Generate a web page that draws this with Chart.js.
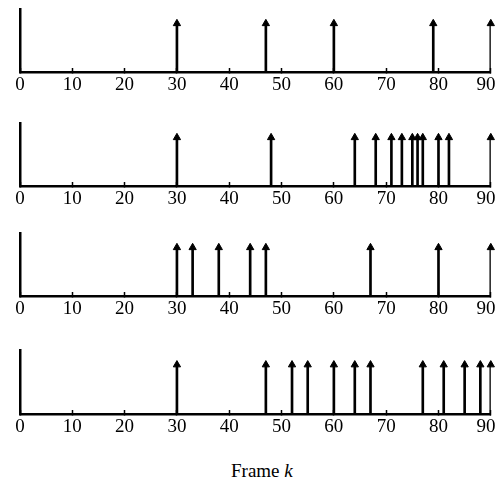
<!DOCTYPE html>
<html>
<head>
<meta charset="utf-8">
<script src="https://cdn.jsdelivr.net/npm/chart.js@4/dist/chart.umd.min.js"></script>
<style>
  html, body { margin: 0; padding: 0; background: #fff; }
  body { width: 496px; height: 481px; position: relative; overflow: hidden; }
  .panel { position: absolute; left: 0; width: 496px; height: 100px; }
  #title { position: absolute; left: 231px; top: 461px; line-height: 20px; white-space: nowrap;
           font-family: "Liberation Serif", "Times New Roman", serif; font-size: 19px; color: #000; }
</style>
</head>
<body>
<div class="panel" style="top:0px"><canvas id="c1"></canvas></div>
<div class="panel" style="top:114px"><canvas id="c2"></canvas></div>
<div class="panel" style="top:224px"><canvas id="c3"></canvas></div>
<div class="panel" style="top:342px"><canvas id="c4"></canvas></div>
<div id="title">Frame <i>k</i></div>
<script>
const frameTicks = [0, 10, 20, 30, 40, 50, 60, 70, 80, 90];
const panel1Frames = [30, 47, 60, 79, 90];
const panel2Frames = [30, 48, 64, 68, 71, 73, 75, 76, 77, 80, 82, 90];
const panel3Frames = [30, 33, 38, 44, 47, 67, 80, 90];
const panel4Frames = [30, 47, 52, 55, 60, 64, 67, 77, 81, 85, 88, 90];
const stemHeight = 1;

const serif = '"Liberation Serif", "Times New Roman", serif';

function makePanel(id, frames, topPad) {
  const pts = frames.map(f => ({ x: f, y: stemHeight }));
  new Chart(document.getElementById(id), {
    data: {
      datasets: [
        {
          type: 'bar',
          data: pts,
          backgroundColor: '#000',
          borderWidth: 0,
          barThickness: 2,
          grouped: false
        },
        {
          type: 'scatter',
          data: pts,
          pointStyle: 'triangle',
          radius: 4.2,
          backgroundColor: '#000',
          borderColor: '#000',
          borderWidth: 1,
          clip: false
        }
      ]
    },
    options: {
      responsive: true,
      maintainAspectRatio: false,
      animation: false,
      events: [],
      layout: { padding: { left: 20, right: 5, top: topPad, bottom: 0 } },
      plugins: { legend: { display: false }, tooltip: { enabled: false } },
      scales: {
        x: {
          type: 'linear',
          min: 0, max: 90,
          offset: false,
          afterBuildTicks: s => { s.ticks = frameTicks.map(v => ({ value: v })); },
          afterFit: s => { s.height = 28; s.paddingLeft = 0; s.paddingRight = 0; },
          ticks: {
            autoSkip: false,
            maxRotation: 0,
            color: '#000',
            padding: 6,
            font: { family: serif, size: 19 },
            callback: v => (v === 90 ? '90\u2002' : String(v))
          },
          grid: { drawOnChartArea: false, drawTicks: true, tickLength: -4, tickWidth: 1.5, color: '#000', offset: false },
          border: { display: true, color: '#000', width: 2.5 }
        },
        y: {
          min: 0, max: 1.3,
          afterFit: s => { s.width = 0; },
          ticks: { display: false },
          grid: { display: false, drawTicks: false },
          border: { display: true, color: '#000', width: 2.5 }
        }
      }
    }
  });
}

makePanel('c1', panel1Frames, 9);
makePanel('c2', panel2Frames, 9);
makePanel('c3', panel3Frames, 9);
makePanel('c4', panel4Frames, 8);
</script>
</body>
</html>
